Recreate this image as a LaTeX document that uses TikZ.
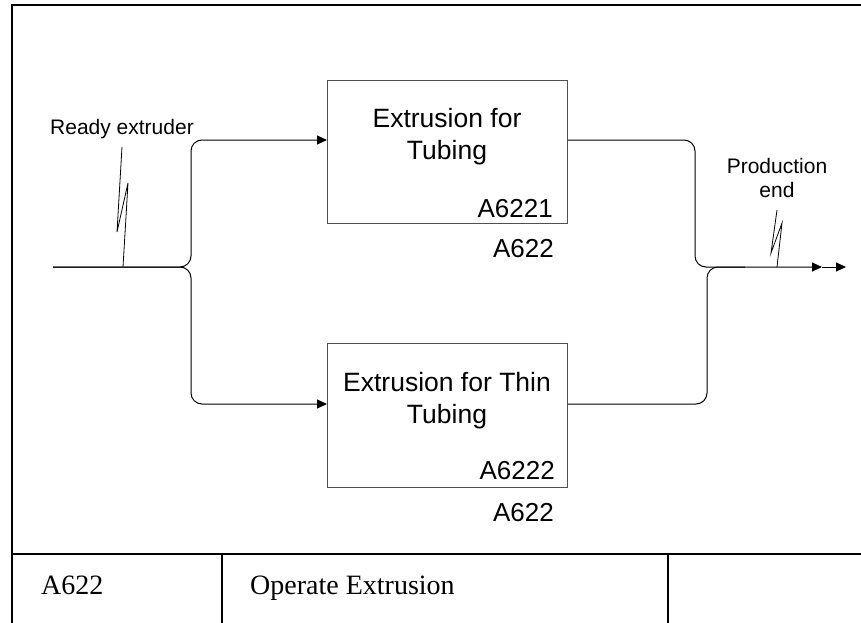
\documentclass[tikz,border=0pt]{standalone}
\usepackage{fontspec}
\setmainfont{Liberation Serif}
\newfontfamily\sansfont{Liberation Sans}
\usetikzlibrary{arrows.meta,positioning}
\definecolor{boxgray}{HTML}{505050}
\definecolor{linedark}{HTML}{000000}

\begin{document}
\begin{tikzpicture}[x=1pt,y=-1pt,
  actbox/.style={draw=boxgray,line width=1pt,minimum width=240pt,minimum height=143pt,anchor=north west,inner sep=0pt},
  acttext/.style={font=\sansfont\fontsize{26.5}{32}\selectfont,align=center},
  actcode/.style={font=\sansfont\fontsize{26}{30}\selectfont,anchor=base east,inner sep=0pt},
  flowlabel/.style={font=\sansfont\fontsize{21}{24}\selectfont,align=center,inner sep=0pt},
  flow/.style={draw=linedark,line width=1pt,rounded corners=11pt},
  tip/.style={-{Triangle[length=10pt,width=9pt]}},
  squiggle/.style={draw=linedark,line width=0.8pt},
  frame/.style={draw=linedark,line width=2pt},
  tableline/.style={draw=linedark,line width=1.5pt},
  tabletext/.style={font=\fontsize{28}{32}\selectfont,anchor=base west,inner sep=0pt}]
  \useasboundingbox (0,0) rectangle (861,623);

  % frame and title block
  \draw[frame] (12,623) -- (12,5) -- (861,5);
  \draw[tableline] (12,554) -- (861,554);
  \draw[tableline] (222,554) -- (222,623);
  \draw[tableline] (668,554) -- (668,623);
  \node[tabletext] (nodeid) at (41,594) {A622};
  \node[tabletext] (title) at (250,594) {Operate Extrusion};

  % activities
  \node[actbox] (b1) at (327,80) {};
  \node[acttext] (b1t) at (447,137) {Extrusion for\\Tubing};
  \node[actcode] (b1c) at (553,217) {A6221};
  \node[actcode] (b1p) at (554,257) {A622};

  \node[actbox,minimum height=144pt] (b2) at (327,343) {};
  \node[acttext] (b2t) at (447,401) {Extrusion for Thin\\Tubing};
  \node[actcode] (b2c) at (555,479) {A6222};
  \node[actcode] (b2p) at (554,521) {A622};

  % arrows
  \coordinate (inL) at (53,267);
  \coordinate (split) at (191,267);
  \coordinate (b1in) at (327,140);
  \coordinate (b2in) at (327,404);
  \coordinate (j1) at (695,267);
  \coordinate (j2) at (707,267);
  \coordinate (m2) at (745,267);
  \coordinate (mid) at (822,267);
  \coordinate (outR) at (846,267);

  \draw[flow,tip] (inL) -- (split) |- (b1in);
  \draw[flow,tip] (inL) -- (split) |- (b2in);
  \draw[flow,tip] (b1.east |- b1in) -| (j1) -- (mid);
  \draw[flow] (b2.east |- b2in) -| (j2) -- (m2);
  \draw[flow,tip] (mid) -- (outR);

  % arrow labels
  \node[flowlabel,anchor=base] (rdy) at (122,135) {Ready extruder};
  \coordinate (rdyfoot) at (123,267);
  \draw[squiggle] (rdyfoot) -- ++(5,-84) -- ++(-11,49) -- ++(5,-85);

  \node[flowlabel,anchor=south] (pend) at (777,198) {Production\\end};
  \coordinate (pendfoot) at (777,267);
  \draw[squiggle] (pendfoot) -- ++(5,-44) -- ++(-11,30) -- ++(6,-43);
\end{tikzpicture}
\end{document}
